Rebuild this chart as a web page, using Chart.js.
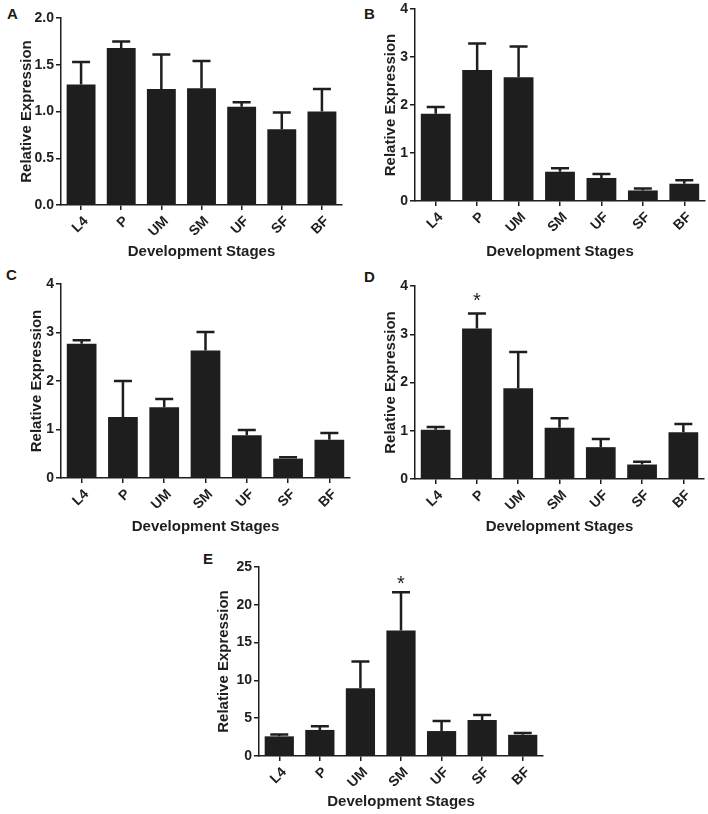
<!DOCTYPE html>
<html>
<head>
<meta charset="utf-8">
<script src="https://cdn.jsdelivr.net/npm/chart.js@4.4.1/dist/chart.umd.min.js"></script>
<style>
  body { margin: 0; background: #fff; width: 708px; height: 814px; position: relative; overflow: hidden; }
  canvas { position: absolute; }
  .tag { position: absolute; font: bold 15px "Liberation Sans", Arial, sans-serif; line-height: 1; color: #1a1a1a; }
</style>
</head>
<body>
<div class="tag" style="left:7px;top:6px">A</div>
<div class="tag" style="left:364px;top:6px">B</div>
<div class="tag" style="left:6px;top:267px">C</div>
<div class="tag" style="left:364px;top:269px">D</div>
<div class="tag" style="left:203px;top:551px">E</div>

<script>
// development stages on the x axis
const stages = ['L4', 'P', 'UM', 'SM', 'UF', 'SF', 'BF'];

// mean relative expression and upper error (SEM) per panel
const aMean = [1.29, 1.68, 1.24, 1.25, 1.05, 0.81, 1.00];
const aSem  = [0.24, 0.07, 0.37, 0.29, 0.05, 0.18, 0.24];
const bMean = [1.82, 2.73, 2.58, 0.61, 0.48, 0.22, 0.36];
const bSem  = [0.14, 0.55, 0.64, 0.07, 0.08, 0.04, 0.07];
const cMean = [2.77, 1.26, 1.46, 2.63, 0.88, 0.40, 0.79];
const cSem  = [0.07, 0.74, 0.17, 0.38, 0.11, 0.03, 0.14];
const dMean = [1.02, 3.12, 1.88, 1.06, 0.66, 0.30, 0.97];
const dSem  = [0.06, 0.31, 0.75, 0.20, 0.17, 0.06, 0.17];
const eMean = [2.60, 3.45, 8.95, 16.6, 3.30, 4.75, 2.80];
const eSem  = [0.25, 0.50, 3.55, 5.05, 1.33, 0.67, 0.25];

// significance marks
const dStars = ['', '*', '', '', '', '', ''];
const eStars = ['', '', '', '*', '', '', ''];

// y axis ranges
const yMax  = { A: 2, B: 4, C: 4, D: 4, E: 25 };
const yStep = { A: 0.5, B: 1, C: 1, D: 1, E: 5 };

const ink = '#1e1e1e';
const fontFam = '"Liberation Sans", Arial, sans-serif';
const titleSize = 15;

// page layout: canvas box [x,y,w,h], plot area [l,t,r,b], title centres
const panels = [
  { id: 'A', mean: aMean, sem: aSem, stars: null, dec: 1,
    box: [0, 0, 354, 262], area: [61, 18, 342, 205], yTitleX: 27, xTitleY: 252 },
  { id: 'B', mean: bMean, sem: bSem, stars: null, dec: 0,
    box: [354, 0, 354, 262], area: [415, 7, 705, 201], yTitleX: 391, xTitleY: 252 },
  { id: 'C', mean: cMean, sem: cSem, stars: null, dec: 0,
    box: [0, 262, 354, 276], area: [61, 284, 350, 478], yTitleX: 37, xTitleY: 527 },
  { id: 'D', mean: dMean, sem: dSem, stars: dStars, starGap: 7, dec: 0,
    box: [354, 262, 354, 276], area: [415, 286, 704, 479], yTitleX: 391, xTitleY: 527 },
  { id: 'E', mean: eMean, sem: eSem, stars: eStars, starGap: 2, dec: 0,
    box: [190, 540, 360, 274], area: [259, 567, 543, 756], yTitleX: 224, xTitleY: 802 }
];

// upper error bars + asterisks
const errorBars = {
  id: 'errorBars',
  afterDatasetsDraw(chart, args, opts) {
    const ctx = chart.ctx;
    const y = chart.scales.y;
    const means = chart.data.datasets[0].data;
    const meta = chart.getDatasetMeta(0);
    ctx.save();
    ctx.strokeStyle = ink;
    ctx.fillStyle = ink;
    ctx.lineWidth = 2.5;
    meta.data.forEach((bar, i) => {
      const top = y.getPixelForValue(means[i] + opts.sem[i]);
      ctx.beginPath();
      ctx.moveTo(bar.x, bar.y);
      ctx.lineTo(bar.x, top);
      ctx.moveTo(bar.x - 9, top);
      ctx.lineTo(bar.x + 9, top);
      ctx.stroke();
      if (opts.stars && opts.stars[i]) {
        ctx.font = '20px ' + fontFam;
        ctx.textAlign = 'center';
        ctx.textBaseline = 'alphabetic';
        ctx.fillText(opts.stars[i], bar.x, top - opts.starGap);
      }
    });
    ctx.restore();
  }
};

panels.forEach(p => {
  const [bx, by, bw, bh] = p.box;
  const [l, t, r, b] = p.area;
  const half = titleSize * 1.2 / 2;
  const padLeft = p.yTitleX - bx - half;
  const padBottom = by + bh - p.xTitleY - half;
  const yWidth = l - bx - padLeft;
  const xHeight = by + bh - padBottom - b;

  const cv = document.createElement('canvas');
  cv.width = bw; cv.height = bh;
  cv.style.left = bx + 'px'; cv.style.top = by + 'px';
  document.body.appendChild(cv);

  const tickFont = { family: fontFam, size: 14, weight: 'bold', lineHeight: 1 };
  const titleFont = { family: fontFam, size: titleSize, weight: 'bold' };

  new Chart(cv.getContext('2d'), {
    type: 'bar',
    data: {
      labels: stages,
      datasets: [{
        data: p.mean,
        backgroundColor: ink,
        borderWidth: 0,
        barPercentage: 0.72,
        categoryPercentage: 1
      }]
    },
    options: {
      responsive: false,
      animation: false,
      devicePixelRatio: 1,
      layout: { padding: { left: padLeft, top: t - by, right: bx + bw - r, bottom: padBottom } },
      plugins: {
        legend: { display: false },
        tooltip: { enabled: false },
        errorBars: { sem: p.sem, stars: p.stars, starGap: p.starGap }
      },
      scales: {
        x: {
          afterFit: s => { s.height = xHeight; },
          grid: { display: true, offset: false, drawOnChartArea: false, drawTicks: true, tickLength: 5, color: ink, lineWidth: 1.5 },
          border: { display: true, color: ink, width: 1.5 },
          ticks: { color: ink, font: tickFont, minRotation: 45, maxRotation: 45, autoSkip: false,
                   padding: 4, labelOffset: 5 },
          title: { display: true, text: 'Development Stages', color: ink, font: titleFont, padding: 0 }
        },
        y: {
          min: 0, max: yMax[p.id],
          afterFit: s => { s.width = yWidth; },
          grid: { display: true, drawOnChartArea: false, drawTicks: true, tickLength: 5, color: ink, lineWidth: 1.5 },
          border: { display: true, color: ink, width: 1.5 },
          ticks: { stepSize: yStep[p.id], color: ink, font: tickFont, padding: 2,
                   callback: v => v.toFixed(p.dec) },
          title: { display: true, text: 'Relative Expression', color: ink, font: titleFont, padding: 0 }
        }
      }
    },
    plugins: [errorBars]
  });
});
</script>
</body>
</html>
